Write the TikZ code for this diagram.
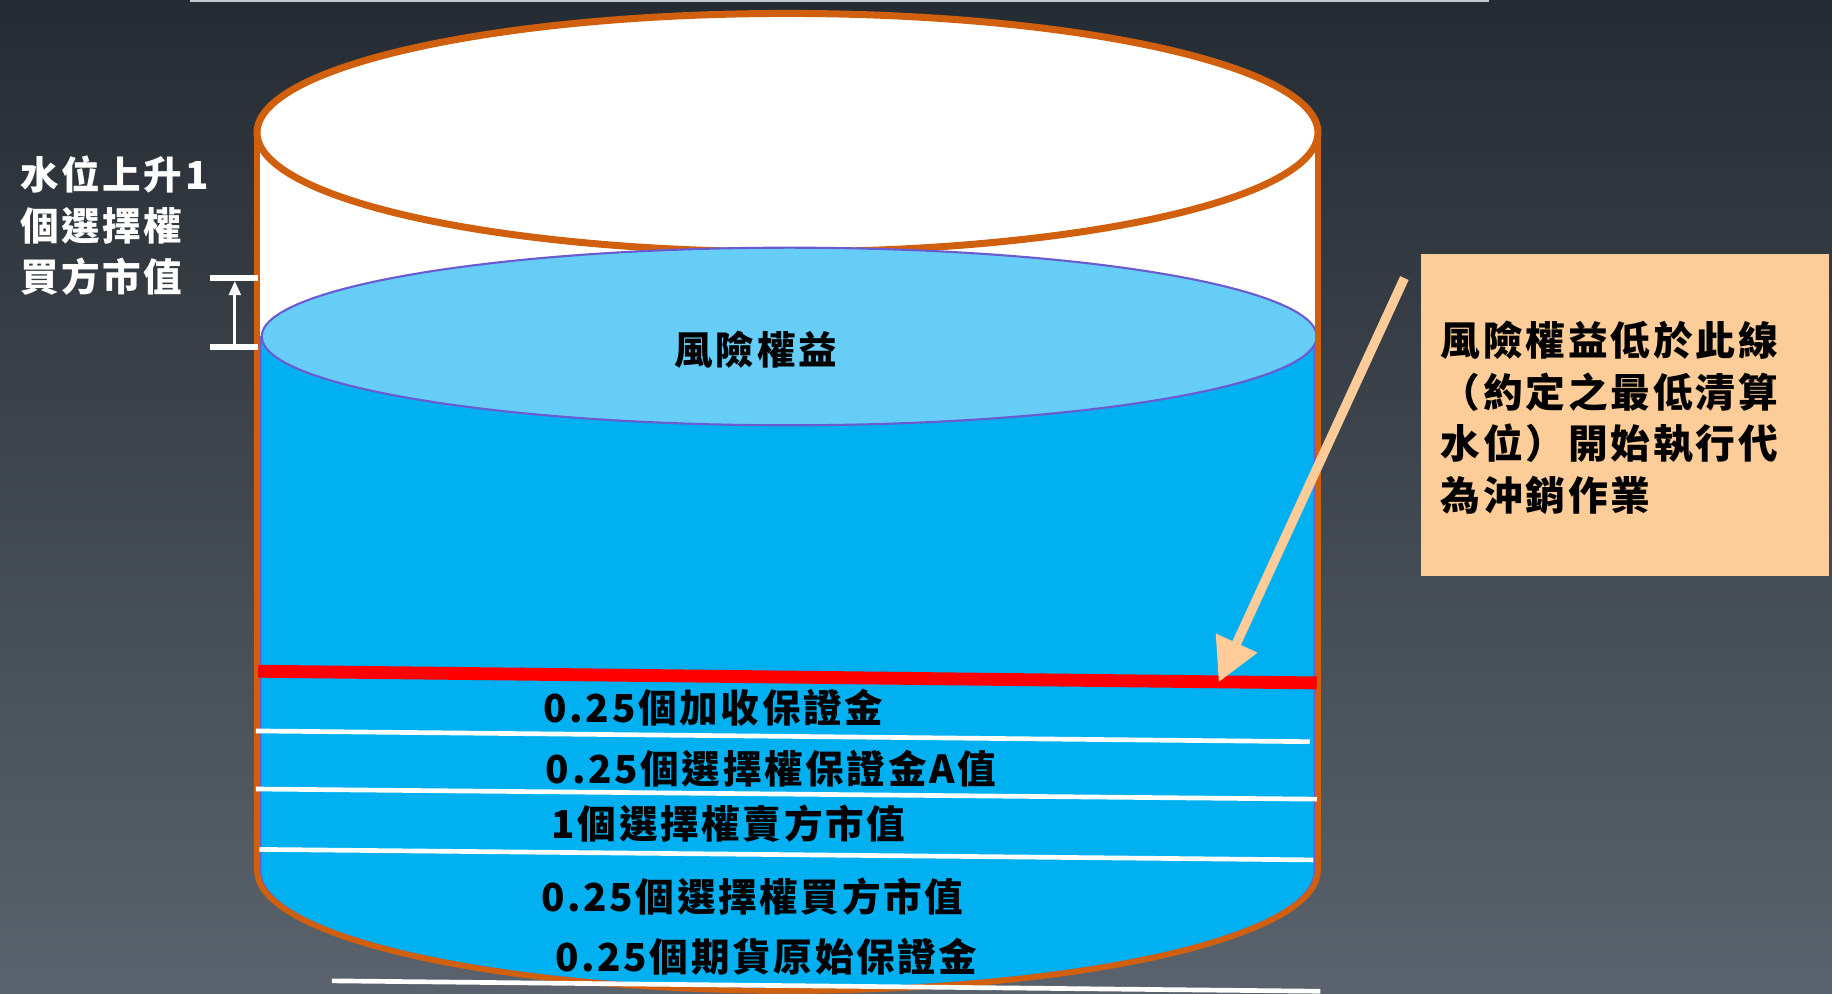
\documentclass[tikz,border=0pt]{standalone}
\usepackage{fontspec}
\usetikzlibrary{arrows.meta}
\newfontfamily\cjk[LetterSpace=7]{Noto Sans CJK TC}
\definecolor{bgtop}{HTML}{252B32}
\definecolor{bgmid}{HTML}{2C323A}
\definecolor{bgbot}{HTML}{5A636D}
\definecolor{cylorange}{HTML}{D0600E}
\definecolor{water}{HTML}{00B0F0}
\definecolor{watertop}{HTML}{66CEF6}
\definecolor{wateredge}{HTML}{6B5BD0}
\definecolor{peach}{HTML}{FCCD98}
\definecolor{arrowpeach}{HTML}{FFCC99}
\definecolor{topline}{HTML}{C4C8CC}
\begin{document}
\begin{tikzpicture}[x=1pt,y=-1pt,
  lbl/.style={inner sep=0pt, text=black, font=\cjk\bfseries\fontsize{33}{44}\selectfont},
  wlbl/.style={lbl, text=white, align=left},
  level/.style={white, line width=4pt},
  bar/.style={white, line width=5pt}]
\useasboundingbox (0,0) rectangle (1568,850);
\shade[top color=bgtop, middle color=bgmid, bottom color=bgbot] (0,0) rectangle (1568,850);
% top grey line
\draw[topline, line width=3pt] (163,0) -- (1274,0);
% cylinder body
\fill[white] (220,113.5) -- (220,745) arc[start angle=180,end angle=360,x radius=454pt,y radius=103pt] -- (1128,113.5) -- cycle;
\draw[cylorange, line width=6pt, fill=white] (674,113.5) ellipse[x radius=454pt, y radius=102pt];
% water
\filldraw[fill=water, draw=wateredge, line width=1.2pt] (223,288) -- (223,745) arc[start angle=180,end angle=360,x radius=451pt,y radius=101pt] -- (1125,288) -- cycle;
\filldraw[fill=watertop, draw=wateredge, line width=1.8pt] (675.5,288) ellipse[x radius=451.5pt, y radius=76pt];
% cylinder outline
\draw[cylorange, line width=5pt] (220,113.5) -- (220,745) arc[start angle=180,end angle=360,x radius=454pt,y radius=103pt] -- (1128,113.5);
% red threshold line
\coordinate (redL) at (221,574.5);
\coordinate (redR) at (1127,584.5);
\draw[red, line width=11pt] (redL) -- (redR);
% white level lines
\coordinate (l1a) at (219,625.6); \coordinate (l1b) at (1121,634.8);
\coordinate (l2a) at (219,675.3); \coordinate (l2b) at (1127,684);
\coordinate (l3a) at (222,727);   \coordinate (l3b) at (1124,736);
\coordinate (l4a) at (284,839.5); \coordinate (l4b) at (1130,848.4);
\draw[level] (l1a) -- (l1b);
\draw[level] (l2a) -- (l2b);
\draw[level] (l3a) -- (l3b);
\draw[level] (l4a) -- (l4b);
% labels in the water
\node[lbl, anchor=center] (equity) at (647,299.5) {風險權益};
\node[lbl, anchor=west] (w1) at (465,606) {0.25個加收保證金};
\node[lbl, anchor=west] (w2) at (467,658) {0.25個選擇權保證金A值};
\node[lbl, anchor=west] (w3) at (472,705) {1個選擇權賣方市值};
\node[lbl, anchor=west] (w4) at (463,767) {0.25個選擇權買方市值};
\node[lbl, anchor=west] (w5) at (475,819) {0.25個期貨原始保證金};
% left rise marker
\coordinate (btA) at (180,238.2); \coordinate (btB) at (221,238.2);
\coordinate (bbA) at (180,297.3); \coordinate (bbB) at (221,297.3);
\coordinate (riseFrom) at (201,297.3); \coordinate (riseTo) at (201,240.5);
\draw[bar] (btA) -- (btB);
\draw[bar] (bbA) -- (bbB);
\draw[white, line width=2.5pt, -{Triangle[length=12pt,width=10pt]}] (riseFrom) -- (riseTo);
\node[wlbl, anchor=west] (rise) at (17,193) {水位上升1\\個選擇權\\買方市值};
% right note box
\node[fill=peach, minimum width=349pt, minimum height=276pt, inner sep=0pt, anchor=north west] (box) at (1216,217) {};
\node[lbl, font=\cjk\bfseries\fontsize{34}{44}\selectfont, align=left, anchor=west] (note) at (1233,357.5) {風險權益低於此線\\（約定之最低清算\\水位）開始執行代\\為沖銷作業};
% arrow
\coordinate (astart) at (1202,238);
\coordinate (atip) at (1043,584);
\draw[arrowpeach, line width=8pt, -{Triangle[length=37pt,width=37pt]}] (astart) -- (atip);
\end{tikzpicture}
\end{document}
